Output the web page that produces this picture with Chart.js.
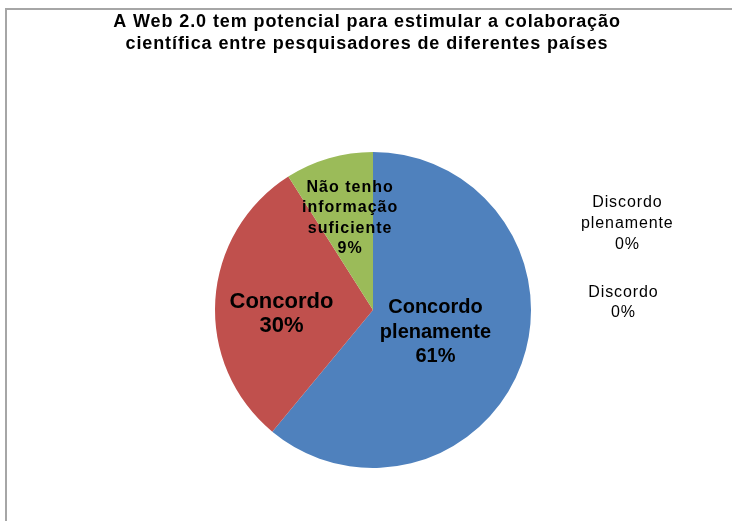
<!DOCTYPE html>
<html>
<head>
<meta charset="utf-8">
<script src="https://cdn.jsdelivr.net/npm/chart.js@4/dist/chart.umd.min.js"></script>
<style>
  html,body{margin:0;padding:0;background:#fff;}
  #wrap{position:relative;width:732px;height:521px;}
  #frame{position:absolute;left:5px;top:8px;right:-2px;bottom:-2px;border-top:2px solid #a6a6a6;border-left:2px solid #a6a6a6;}
  canvas{position:absolute;left:0;top:0;}
</style>
</head>
<body>
<div id="wrap">
  <div id="frame"></div>
  <canvas id="c" width="732" height="521"></canvas>
</div>
<script>
const titleLines = ["A Web 2.0 tem potencial para estimular a colaboração", "científica entre pesquisadores de diferentes países"];
const categories = ["Concordo plenamente", "Discordo plenamente", "Discordo", "Concordo", "Não tenho informação suficiente"];
const labelLines = [["Concordo", "plenamente"], ["Discordo", "plenamente"], ["Discordo"], ["Concordo"], ["Não tenho", "informação", "suficiente"]];
const values = [61, 0, 0, 30, 9];
const colors = ["#4F81BD", "#7F7F7F", "#8064A2", "#C0504D", "#9BBB59"];

const FONT = "'Liberation Sans', Arial, sans-serif";

// label styling per slice (placement: fraction along slice angle, fraction of radius)
const labelStyle = [
  { inside: true, angleFrac: 0.5, radFrac: 0.42, size: 20, lh: 24.5, bold: true, spacing: 0 },
  { inside: false, dxFrac: 1.607, dyFrac: -0.544, size: 16, lh: 21, bold: false, spacing: 0.9 },
  { inside: false, dxFrac: 1.582, dyFrac: -0.044, size: 16, lh: 20, bold: false, spacing: 0.9 },
  { inside: true, angleFrac: 0.445, radFrac: 0.58, size: 22, lh: 24, bold: true, spacing: 0 },
  { inside: true, angleFrac: 0.56, radFrac: 0.60, size: 16, lh: 20.3, bold: true, spacing: 1 }
];

// title text: slight letter spacing and a small horizontal offset (title is drawn before datasets)
const titleTweak = {
  id: 'titleTweak',
  beforeDraw(chart) {
    const ctx = chart.ctx;
    ctx.save();
    ctx.letterSpacing = '0.9px';
    ctx.translate(-6, 0);
  },
  beforeDatasetsDraw(chart) {
    const ctx = chart.ctx;
    ctx.restore();
    ctx.letterSpacing = '0px';
  }
};

const labelPlugin = {
  id: 'sliceLabels',
  afterDatasetsDraw(chart) {
    const ctx = chart.ctx;
    const meta = chart.getDatasetMeta(0);
    const total = values.reduce((a, b) => a + b, 0);
    ctx.save();
    ctx.textAlign = 'center';
    ctx.textBaseline = 'middle';
    ctx.fillStyle = '#000';
    meta.data.forEach((arc, i) => {
      const p = arc.getProps(['x', 'y', 'startAngle', 'endAngle', 'outerRadius'], true);
      const s = labelStyle[i];
      const pct = Math.round(values[i] / total * 100) + '%';
      const lines = labelLines[i].concat([pct]);
      let cx, cy;
      if (!s.inside) {
        cx = p.x + p.outerRadius * s.dxFrac;
        cy = p.y + p.outerRadius * s.dyFrac;
      } else {
        const a = p.startAngle + (p.endAngle - p.startAngle) * s.angleFrac;
        cx = p.x + Math.cos(a) * p.outerRadius * s.radFrac;
        cy = p.y + Math.sin(a) * p.outerRadius * s.radFrac;
      }
      ctx.font = (s.bold ? 'bold ' : '') + s.size + 'px ' + FONT;
      ctx.letterSpacing = s.spacing + 'px';
      const n = lines.length;
      lines.forEach((t, k) => {
        ctx.fillText(t, cx + s.spacing / 2, cy + (k - (n - 1) / 2) * s.lh);
      });
    });
    ctx.restore();
  }
};

new Chart(document.getElementById('c'), {
  type: 'pie',
  data: {
    labels: categories,
    datasets: [{
      data: values,
      backgroundColor: colors,
      borderWidth: 0
    }]
  },
  options: {
    responsive: false,
    animation: false,
    layout: { padding: { left: 62, right: 48, top: 0, bottom: 53 } },
    plugins: {
      legend: { display: false },
      tooltip: { enabled: false },
      title: {
        display: true,
        text: titleLines,
        color: '#000',
        font: { family: FONT, size: 18, weight: 'bold', lineHeight: 1.222 },
        padding: { top: 11, bottom: 97 }
      }
    }
  },
  plugins: [titleTweak, labelPlugin]
});
</script>
</body>
</html>
